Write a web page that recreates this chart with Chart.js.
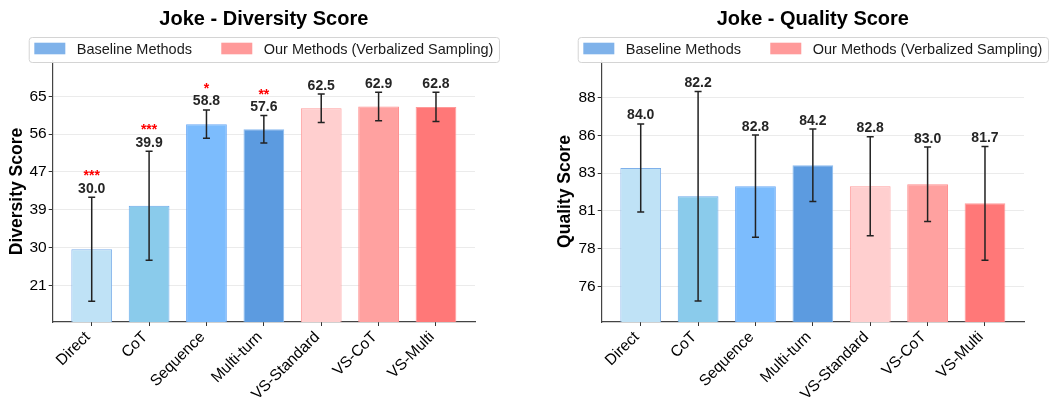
<!DOCTYPE html>
<html>
<head>
<meta charset="utf-8">
<script src="https://cdn.jsdelivr.net/npm/chart.js@4.4.1/dist/chart.umd.min.js"></script>
<style>
  html, body { margin: 0; padding: 0; background: #ffffff; }
  #wrap { position: relative; width: 1055px; height: 402px; overflow: hidden; }
  #left { position: absolute; left: 0; top: 0; }
  #right { position: absolute; left: 527px; top: 0; }
</style>
</head>
<body>
<div id="wrap">
  <canvas id="left" width="527" height="402"></canvas>
  <canvas id="right" width="528" height="402"></canvas>
</div>
<script>
// ---------------- data ----------------
const categories = ['Direct', 'CoT', 'Sequence', 'Multi-turn', 'VS-Standard', 'VS-CoT', 'VS-Multi'];

const diversityValues = [29.4, 39.5, 58.5, 57.3, 62.2, 62.6, 62.5];
const diversityErrors = [12.1, 12.7, 3.3, 3.2, 3.3, 3.3, 3.4];
const diversityLabels = ['30.0', '39.9', '58.8', '57.6', '62.5', '62.9', '62.8'];
const diversityStars = ['***', '***', '*', '**', '', '', ''];
const diversityTicks = [21.0, 29.8, 38.6, 47.4, 56.2, 65.0];
const diversityTickLabels = ['21', '30', '39', '47', '56', '65'];

const qualityValues = [83.53, 81.73, 82.37, 83.70, 82.37, 82.49, 81.28];
const qualityErrors = [2.8, 6.66, 3.25, 2.3, 3.15, 2.37, 3.62];
const qualityLabels = ['84.0', '82.2', '82.8', '84.2', '82.8', '83.0', '81.7'];
const qualityStars = ['', '', '', '', '', '', ''];
const qualityTicks = [76.0, 78.4, 80.8, 83.2, 85.6, 88.0];
const qualityTickLabels = ['76', '78', '81', '83', '86', '88'];

const legendNames = ['Baseline Methods', 'Our Methods (Verbalized Sampling)'];

// ---------------- styles ----------------
const FONT = "'Liberation Sans', Arial, Helvetica, sans-serif";
const barFill = ['#bfe2f6', '#8acbeb', '#7cbcfd', '#5c9be0', '#ffcfcf', '#ffa1a0', '#ff7878'];
const barEdge = ['#7fb0ea', '#6aa9ec', '#6aa9f5', '#8bbbef', '#ff9d9d', '#ff8f8f', '#ff9a9a'];
const legendColors = ['#7fb2ea', '#ff9a9a'];

function makeChart(canvasId, cfg) {
  const overlay = {
    id: 'overlay',
    afterDatasetsDraw(chart) {
      const ctx = chart.ctx;
      const ys = chart.scales.y;
      const meta = chart.getDatasetMeta(0);
      ctx.save();
      meta.data.forEach((bar, i) => {
        const v = cfg.values[i], e = cfg.errors[i];
        const yTop = ys.getPixelForValue(v + e);
        const yBot = ys.getPixelForValue(v - e);
        const x = bar.x;
        ctx.strokeStyle = '#222222';
        ctx.lineWidth = 1.5;
        ctx.beginPath();
        ctx.moveTo(x, yTop); ctx.lineTo(x, yBot);
        ctx.moveTo(x - 3.5, yTop); ctx.lineTo(x + 3.5, yTop);
        ctx.moveTo(x - 3.5, yBot); ctx.lineTo(x + 3.5, yBot);
        ctx.stroke();
        ctx.fillStyle = '#262626';
        ctx.font = 'bold 14px ' + FONT;
        ctx.textAlign = 'center';
        ctx.textBaseline = 'alphabetic';
        const base = yTop - 4.5;
        ctx.fillText(cfg.labels[i], x, base);
        if (cfg.stars[i]) {
          ctx.fillStyle = '#ff0000';
          ctx.fillText(cfg.stars[i], x, base - 12.5);
        }
      });
      ctx.restore();
    },
    afterDraw(chart) {
      const ctx = chart.ctx;
      const ca = chart.chartArea;
      const cx = (ca.left + ca.right) / 2;
      ctx.save();
      ctx.fillStyle = '#000000';
      ctx.font = 'bold 20px ' + FONT;
      ctx.textAlign = 'center';
      ctx.textBaseline = 'alphabetic';
      ctx.fillText(cfg.title, cx, 24.5);
      ctx.font = '14.5px ' + FONT;
      const w1 = ctx.measureText(legendNames[0]).width;
      const w2 = ctx.measureText(legendNames[1]).width;
      const pad = 5.6, sw = 31, gapST = 11.4, gapItem = 29.3;
      const total = pad + sw + gapST + w1 + gapItem + sw + gapST + w2 + pad;
      const bx = cx - total / 2, by = 37, bh = 25;
      ctx.fillStyle = 'rgba(255,255,255,0.92)';
      ctx.strokeStyle = '#d4d4d4';
      ctx.lineWidth = 1;
      ctx.beginPath();
      if (ctx.roundRect) ctx.roundRect(bx + 0.5, by + 0.5, total, bh, 3);
      else ctx.rect(bx + 0.5, by + 0.5, total, bh);
      ctx.fill(); ctx.stroke();
      let x = bx + pad;
      ctx.textAlign = 'left';
      ctx.fillStyle = legendColors[0];
      ctx.fillRect(x, 42.7, sw, 11.6);
      x += sw + gapST;
      ctx.fillStyle = '#1a1a1a';
      ctx.fillText(legendNames[0], x, 54);
      x += w1 + gapItem;
      ctx.fillStyle = legendColors[1];
      ctx.fillRect(x, 42.7, sw, 11.6);
      x += sw + gapST;
      ctx.fillStyle = '#1a1a1a';
      ctx.fillText(legendNames[1], x, 54);
      ctx.restore();
    }
  };

  return new Chart(document.getElementById(canvasId), {
    type: 'bar',
    data: {
      datasets: [{
        data: cfg.values.map((v, i) => ({ x: i, y: v })),
        backgroundColor: barFill,
        borderColor: barEdge,
        borderWidth: 1,
        borderSkipped: 'bottom',
        categoryPercentage: 1.0,
        barPercentage: 0.71
      }]
    },
    options: {
      responsive: false,
      animation: false,
      devicePixelRatio: 1,
      layout: { padding: { left: cfg.padLeft, right: cfg.padRight, top: 61, bottom: 0 } },
      plugins: { legend: { display: false }, title: { display: false }, tooltip: { enabled: false } },
      scales: {
        x: {
          type: 'linear',
          offset: false,
          min: -0.68, max: 6.68,
          afterFit(s) { s.height = 80; },
          afterBuildTicks(s) { s.ticks = categories.map((c, i) => ({ value: i })); },
          grid: { offset: false, drawOnChartArea: false, drawTicks: true, tickLength: 4, tickColor: '#333333' },
          border: { display: true, color: '#444444', width: 1.2 },
          ticks: {
            autoSkip: false, maxRotation: 45, minRotation: 45, padding: 2, labelOffset: -4,
            color: '#000000', font: { family: FONT, size: 15.5 },
            callback: (v) => categories[v]
          }
        },
        y: {
          type: 'linear',
          min: cfg.yMin, max: cfg.yMax,
          afterFit(s) { s.width = cfg.yWidth; },
          afterBuildTicks(s) { s.ticks = cfg.ticks.map(v => ({ value: v })); },
          grid: { color: '#ebebeb', lineWidth: 1, drawTicks: true, tickLength: 4, tickColor: '#333333' },
          border: { display: true, color: '#444444', width: 1.2 },
          ticks: {
            padding: 2, color: '#000000', font: { family: FONT, size: 15.5 },
            callback: (v) => { const k = cfg.ticks.indexOf(v); return k >= 0 ? cfg.tickLabels[k] : ''; }
          },
          title: {
            display: true, text: cfg.yTitle, color: '#000000',
            font: { family: FONT, size: 17.5, weight: 'bold' },
            padding: { top: 6.5, bottom: 0 }
          }
        }
      }
    },
    plugins: [overlay]
  });
}

makeChart('left', {
  title: 'Joke - Diversity Score', yTitle: 'Diversity Score',
  values: diversityValues, errors: diversityErrors, labels: diversityLabels, stars: diversityStars,
  ticks: diversityTicks, tickLabels: diversityTickLabels,
  yMin: 12.45, yMax: 73.2, padLeft: 0, padRight: 52, yWidth: 52.7
});
makeChart('right', {
  title: 'Joke - Quality Score', yTitle: 'Quality Score',
  values: qualityValues, errors: qualityErrors, labels: qualityLabels, stars: qualityStars,
  ticks: qualityTicks, tickLabels: qualityTickLabels,
  yMin: 73.73, yMax: 90.33, padLeft: 21, padRight: 31, yWidth: 53.7
});
</script>
</body>
</html>
